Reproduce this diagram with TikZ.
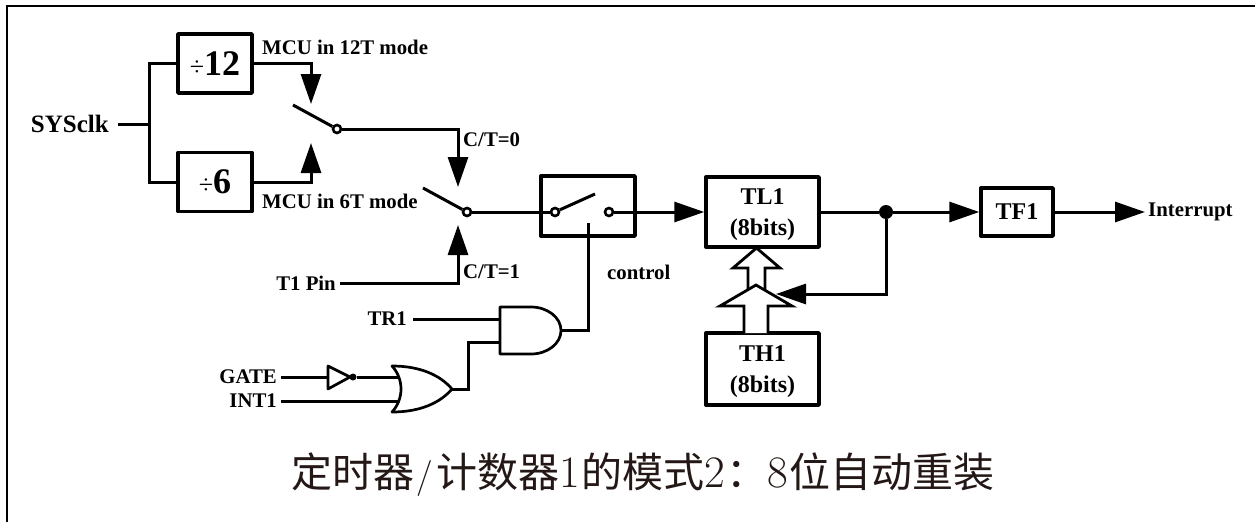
\documentclass[tikz,border=0pt]{standalone}
\usepackage{fontspec}
\setmainfont{Liberation Serif}
\newfontfamily\cjk{Noto Sans CJK SC}
\newfontfamily\lmf{Latin Modern Roman}
\usetikzlibrary{arrows.meta,calc}
\definecolor{titleink}{HTML}{231815}
\newcommand{\cell}[1]{\makebox[22pt]{\lmf\fontsize{45}{45}\selectfont #1}}
\newcommand{\divsign}{{\mdseries\fontsize{26}{26}\selectfont ÷}}
\newcommand{\upstrut}{\rule{0pt}{22pt}}
\tikzset{
  wire/.style={line width=3pt,line join=miter},
  arrowwire/.style={wire,-{Triangle[length=30pt,width=20pt,inset=0pt]}},
  blockbox/.style={draw,line width=3.4pt,line join=round,inner sep=0pt,align=center,font=\bfseries\fontsize{24}{31}\selectfont},
  lbl/.style={inner sep=0pt,font=\bfseries\fontsize{20.8}{24}\selectfont},
  lever/.style={line width=3pt},
  pin/.style={circle,draw,fill=white,line width=2.6pt,minimum size=8pt,inner sep=0pt},
  gateline/.style={line width=2.7pt,line join=round},
  hollow/.style={draw,fill=white,line width=2.8pt,line join=miter},
  frameline/.style={line width=2.6pt}
}
\begin{document}
\begin{tikzpicture}[x=1pt,y=-1pt]
\useasboundingbox (0,0) rectangle (1255,522);
\coordinate (fa) at (7,522); \coordinate (fb) at (7,6); \coordinate (fc) at (1255,6);
\draw[frameline] (fa) -- (fb) -- (fc);

% labels
\node[lbl,anchor=east,font=\bfseries\fontsize{25}{28}\selectfont] (sys) at (109,124) {SYSclk};
\node[lbl,anchor=west] (m12) at (262,47) {MCU in 12T mode};
\node[lbl,anchor=west] (m6) at (262,201) {MCU in 6T mode};
\node[lbl,anchor=west] (ct0) at (463,140) {C/T=0};
\node[lbl,anchor=west] (ct1) at (463,272) {C/T=1};
\node[lbl,anchor=west] (ctl) at (607,272) {control};
\node[lbl,anchor=east] (t1p) at (336,283) {T1 Pin};
\node[lbl,anchor=east] (tr1) at (407,319) {TR1};
\node[lbl,anchor=east] (gate) at (277,377) {GATE};
\node[lbl,anchor=east] (int1) at (277,401) {INT1};
\node[lbl,anchor=west] (irq) at (1148,212) {Interrupt};

% blocks
\node[blockbox,minimum width=74pt,minimum height=59pt,font=\bfseries\fontsize{36}{40}\selectfont] (d12) at (215,63.5) {\divsign 12};
\node[blockbox,minimum width=74pt,minimum height=59pt,font=\bfseries\fontsize{36}{40}\selectfont] (d6) at (215,182) {\divsign 6};
\node[blockbox,minimum width=94pt,minimum height=60pt] (sw) at (588,206) {};
\node[blockbox,minimum width=113pt,minimum height=70pt] (tl) at (762.5,212) {\upstrut TL1\\(8bits)};
\node[blockbox,minimum width=113pt,minimum height=72pt] (th) at (762.5,369) {\upstrut TH1\\(8bits)};
\node[blockbox,minimum width=72pt,minimum height=48pt] (tf) at (1017,212) {TF1};

% clock split
\coordinate (j) at (149,124);
\coordinate (s1a) at (293,105); \coordinate (s2a) at (423,188);
\coordinate (t12) at (311,104); \coordinate (t6) at (311,143);
\coordinate (t0) at (458,187); \coordinate (t1) at (458,225);
\draw[wire] ($(sys.east)+(9,0)$) -- (j);
\draw[wire] (d12.west) -| (j) |- (d6.west);
\draw[arrowwire] (d12.east) -| (t12);
\draw[arrowwire] (d6.east) -| (t6);

% selector switches
\node[pin] (p1) at (337,129) {};
\node[pin] (p2) at (467,212) {};
\node[pin] (p3) at (555,212) {};
\node[pin] (p4) at (609,212) {};
\coordinate (s3b) at (595,194);
\draw[lever] (s1a) -- (p1);
\draw[lever] (s2a) -- (p2);
\draw[lever] (p3) -- (s3b);
\draw[arrowwire] (p1) -| (t0);
\draw[arrowwire] ($(t1p.east)+(4,0)$) -| (t1);
\draw[wire] (p2) -- (p3);
\draw[arrowwire] (p4) -- (tl.west);

% gates
\draw[gateline] (500,307) -- (531,307) arc[start angle=-90,end angle=90,x radius=30pt,y radius=-23.5pt] -- (500,354) -- cycle;
\coordinate (aout) at (561,330.5);
\coordinate (ain1) at (500,319); \coordinate (ain2) at (500,342);
\coordinate (oout) at (452,389);
\coordinate (oin1) at (399,377); \coordinate (oin2) at (399,401);
\draw[gateline] (392,366) .. controls (404,379) and (404,399) .. (392,412)
  .. controls (420,412) and (440,403) .. (oout)
  .. controls (440,375) and (420,366) .. (392,366) -- cycle;
\coordinate (ctop) at (588,223);
\draw[wire] (aout) -| (ctop);
\draw[wire] ($(tr1.east)+(6,0)$) -- (ain1);
\draw[wire] (oout) -| (468,342) -- (ain2);
% inverter
\coordinate (iw) at (328,377); \coordinate (itip) at (350,377);
\draw[gateline] (328,366) -- (itip) -- (328,389) -- cycle;
\node[circle,fill,minimum size=7pt,inner sep=0pt] (bub) at (353,377) {};
\draw[wire] ($(gate.east)+(4,0)$) -- (iw);
\draw[wire] (bub) -- (oin1);
\draw[wire] ($(int1.east)+(4,0)$) -- (oin2);

% output
\node[circle,fill,minimum size=14pt,inner sep=0pt] (dot) at (886,212) {};
\draw[wire] (tl.east) -- (dot);
\draw[arrowwire] (dot) -- (tf.west);
\draw[arrowwire] (tf.east) -- ($(irq.west)+(-3,0)$);

% reload hollow arrows
\draw[hollow] (748,290) -- (748,268) -- (733,268) -- (756.5,248) -- (780,268) -- (765,268) -- (765,290);
\draw[hollow] (744,333) -- (744,306) -- (720,306) -- (756,285) -- (792,306) -- (768,306) -- (768,333);
\coordinate (fbt) at (776,294);
\draw[arrowwire] (dot) |- (fbt);

% title
\node[anchor=base west,inner sep=0pt,text=titleink,font=\fontsize{41}{46}\selectfont] (title) at (291,487)
 {{\cjk 定时器}\makebox[22pt]{\lmf\fontsize{36}{36}\selectfont /}{\cjk 计数器}\cell{1}{\cjk 的模式}\cell{2}{\cjk ：}\cell{8}{\cjk 位自动重装}};
\end{tikzpicture}
\end{document}
